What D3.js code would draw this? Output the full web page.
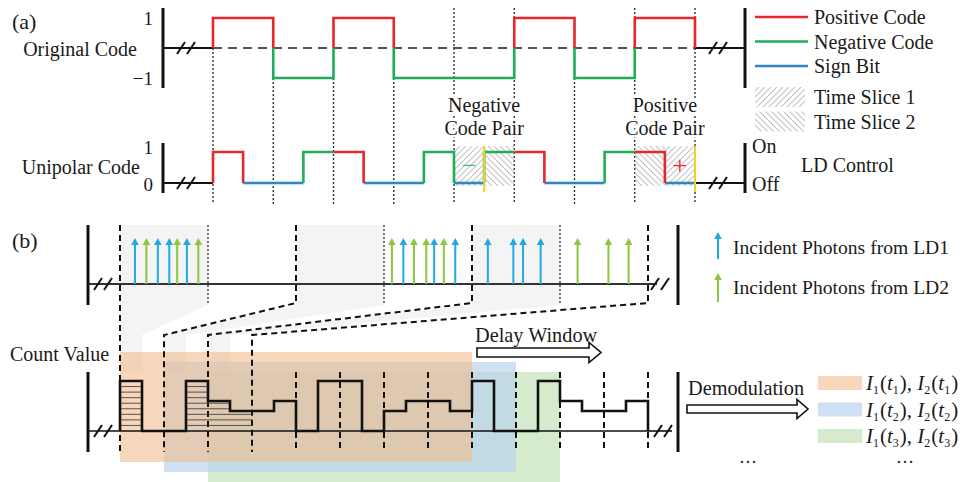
<!DOCTYPE html>
<html>
<head>
<meta charset="utf-8">
<script src="https://cdnjs.cloudflare.com/ajax/libs/d3/7.8.5/d3.min.js"></script>
<style>
  body { margin: 0; background: #fff; }
  svg { display: block; }
  text { font-family: "Liberation Serif", "Times New Roman", serif; fill: #1a1a1a; }
</style>
</head>
<body>
<svg id="chart"></svg>
<script>
// ---- data ----
const originalBits = [1, -1, 1, -1, -1, 1, -1, 1];
const codeTicks = ["1", "\u22121"];
const unipolarTicks = ["1", "0"];
const codeLegend = ["Positive Code", "Negative Code", "Sign Bit"];
const sliceLegend = ["Time Slice 1", "Time Slice 2"];
const ldLabels = ["On", "Off"];
const pairs = [
  { bit: 4, sign: "\u2212", lines: ["Negative", "Code Pair"] },
  { bit: 7, sign: "+", lines: ["Positive", "Code Pair"] }
];
const yellowMarks = [9, 16];   // in half-bit slots

// photon arrival times, in slice units (6 slices shown)
const ld1Times = [0.17, 0.43, 0.56, 0.76, 3.22, 3.57, 3.81, 4.18, 4.47, 4.58, 4.78];
const ld2Times = [0.30, 0.65, 0.89, 3.09, 3.34, 3.48, 3.68, 5.20, 5.55, 5.78];
const photonSlices = 6;

// count value per bin (24 bins)
const counts = [5, 0, 0, 5, 3, 2, 2, 3, 0, 5, 5, 0, 2, 3, 3, 2, 5, 0, 0, 5, 3, 2, 2, 3];
const windowStarts = [0, 2, 4];
const windowLength = 16;
const windowLabels = [["1", "1"], ["1", "2"], ["1", "3"]];
const photonLegend = ["Incident Photons from LD1", "Incident Photons from LD2"];

// ---- drawing ----
const W = 967, H = 482;
const RED = "#e8262b", GREEN = "#20ad55", BLUE = "#2f86c8";
const PBLUE = "#1fa9e3", PGREEN = "#8cc63f";

const svg = d3.select("#chart").attr("width", W).attr("height", H);
svg.append("rect").attr("width", W).attr("height", H).attr("fill", "#fff");

const defs = svg.append("defs");
function hatch(id, up) {
  const p = defs.append("pattern").attr("id", id)
    .attr("patternUnits", "userSpaceOnUse").attr("width", 6).attr("height", 6);
  p.append("path")
    .attr("d", up ? "M-1,1L1,-1M0,6L6,0M5,7L7,5" : "M-1,5L1,7M0,0L6,6M5,-1L7,1")
    .attr("stroke", "#c4c4c4").attr("stroke-width", 1.1);
}
hatch("slice1", true);
hatch("slice2", false);

function line(g, x1, y1, x2, y2, stroke, w, dash) {
  return g.append("line").attr("x1", x1).attr("y1", y1).attr("x2", x2).attr("y2", y2)
    .attr("stroke", stroke).attr("stroke-width", w).attr("stroke-dasharray", dash || null);
}
function breakMark(g, x, y) {
  [0, 10].forEach(dx => line(g, x + dx - 4, y + 6, x + dx + 4, y - 6, "#111", 2));
}
function label(g, x, y, txt, size, anchor) {
  return g.append("text").attr("x", x).attr("y", y).attr("dy", "0.35em")
    .attr("font-size", size || 20).attr("text-anchor", anchor || "start").text(txt);
}

// ===== panel (a) =====
const a = svg.append("g");
const xa = d3.scaleLinear().domain([0, originalBits.length]).range([213, 695]);
const ya = d3.scaleLinear().domain([-1, 1]).range([78, 18]);
const slots = originalBits.flatMap(b => b > 0
  ? [{ l: 1, c: RED }, { l: 0, c: BLUE }]
  : [{ l: 0, c: BLUE }, { l: 1, c: GREEN }]);
const xs = d3.scaleLinear().domain([0, slots.length]).range(xa.range());
const yu = d3.scaleLinear().domain([0, 1]).range([183, 152]);

label(a, 12, 21, "(a)", 22);
label(a, 137, 49, "Original Code", 20, "end");
label(a, 153, 18, codeTicks[0], 19, "end");
label(a, 153, 78, codeTicks[1], 19, "end");
label(a, 140, 167, "Unipolar Code", 20, "end");
label(a, 153, 147, unipolarTicks[0], 19, "end");
label(a, 153, 184, unipolarTicks[1], 19, "end");

// dotted time grid
const pairEdges = pairs.flatMap(p => [p.bit, p.bit + 1]);
d3.range(originalBits.length + 1).forEach(i => {
  const nb = [originalBits[i - 1], originalBits[i], 0].filter(v => v !== undefined);
  const top = pairEdges.includes(i) ? 8 : ya(d3.min(nb));
  line(a, xa(i), top, xa(i), 204, "#222", 1.3, "2,2");
});

// hatched code pairs
pairs.forEach(p => {
  const order = p.sign === "+" ? ["slice2", "slice1"] : ["slice1", "slice2"];
  order.forEach((id, k) => {
    a.append("rect").attr("x", xs(2 * p.bit + k)).attr("y", 146)
      .attr("width", xs(1) - xs(0)).attr("height", 40).attr("fill", `url(#${id})`);
  });
  p.lines.forEach((t, k) => label(a, xa(p.bit + 0.5), 105 + k * 23, t, 20, "middle")
    .attr("stroke", "#fff").attr("stroke-width", 5).attr("paint-order", "stroke"));
  const low = slots[2 * p.bit].l === 0 ? 2 * p.bit : 2 * p.bit + 1;
  a.append("text").attr("x", xs(low + 0.5)).attr("y", 165).attr("dy", "0.35em")
    .attr("text-anchor", "middle").attr("font-size", 26)
    .style("fill", p.sign === "+" ? RED : "#3cbf6a").text(p.sign);
});

// zero line (dashed) and end stubs
line(a, xa(0), ya(0), xa(originalBits.length), ya(0), "#555", 1.8, "9,6");
[[163, xa(0)], [xa(originalBits.length), 745]].forEach(([x1, x2]) => {
  line(a, x1, ya(0), x2, ya(0), "#111", 2);
  line(a, x1, yu(0), x2, yu(0), "#111", 2);
});
breakMark(a, 181, ya(0)); breakMark(a, 713, ya(0));
breakMark(a, 181, yu(0)); breakMark(a, 713, yu(0));
line(a, 163, 8, 163, 88, "#111", 3);
line(a, 745, 8, 745, 88, "#111", 3);
line(a, 163, 143, 163, 193, "#111", 3);
line(a, 745, 143, 745, 193, "#111", 3);

// original code runs
const runs = [];
originalBits.forEach((b, i) => {
  const last = runs[runs.length - 1];
  if (last && last.b === b) last.end = i + 1;
  else runs.push({ b, start: i, end: i + 1 });
});
a.selectAll(".run").data(runs).join("path")
  .attr("d", r => `M${xa(r.start)},${ya(0)}V${ya(r.b)}H${xa(r.end)}V${ya(0)}`)
  .attr("fill", "none").attr("stroke", r => r.b > 0 ? RED : GREEN).attr("stroke-width", 2.6);

// unipolar code
const slotPath = (s, i) => {
  if (s.l === 0) return `M${xs(i)},${yu(0)}H${xs(i + 1)}`;
  const prev = i ? slots[i - 1].l : 0;
  const next = i < slots.length - 1 ? slots[i + 1].l : 0;
  return `M${xs(i)},${yu(prev)}V${yu(1)}H${xs(i + 1)}` + (next === 0 ? `V${yu(0)}` : "");
};
const order = d3.range(slots.length).sort((i, j) => slots[i].l - slots[j].l);
order.forEach(i => {
  a.append("path").attr("d", slotPath(slots[i], i)).attr("fill", "none")
    .attr("stroke", slots[i].c).attr("stroke-width", 2.6);
});
yellowMarks.forEach(s => line(a, xs(s), 146, xs(s), 192, "#f2d21b", 2));

// legends (a)
[RED, GREEN, BLUE].forEach((c, k) => {
  line(a, 755, 17 + k * 24.5, 808, 17 + k * 24.5, c, 2.6);
  label(a, 814, 17 + k * 24.5, codeLegend[k], 20);
});
sliceLegend.forEach((t, k) => {
  a.append("rect").attr("x", 755).attr("y", 87 + k * 24.5).attr("width", 50).attr("height", 20)
    .attr("fill", `url(#slice${k + 1})`);
  label(a, 814, 97 + k * 24.5, t, 20);
});
label(a, 752, 146, ldLabels[0], 20);
label(a, 752, 184, ldLabels[1], 20);
label(a, 801, 165, "LD Control", 20);

// ===== panel (b) =====
const b = svg.append("g");
const xp = d3.scaleLinear().domain([0, photonSlices]).range([120, 648]);
const xc = d3.scaleLinear().domain([0, counts.length]).range(xp.range());
const yc = d3.scaleLinear().domain([0, 5]).range([431, 381]);
const baseP = 284;

label(b, 12, 240, "(b)", 22);
label(b, 10, 354, "Count Value", 20);

// gray slices and their projections
d3.range(0, photonSlices, 2).forEach(s => {
  const x0 = xp(s), x1 = xp(s + 1), c0 = xc(s), c1 = xc(s + 1);
  b.append("path")
    .attr("d", `M${x0},225H${x1}V305L${c1},335V372H${c0}V335L${x0},305Z`)
    .attr("fill", "#f1f1f1").attr("opacity", 0.8);
});

// colour windows
const winColors = ["#f2bd8e", "#b9d3ec", "#cfe6c4"];
const winOpac = [0.6, 0.7, 0.85];
windowStarts.map((s, k) => k).reverse().forEach(k => {
  const top = 352 + k * 10;
  b.append("rect").attr("x", xc(windowStarts[k])).attr("y", top)
    .attr("width", xc(windowStarts[k] + windowLength) - xc(windowStarts[k])).attr("height", 110)
    .attr("fill", winColors[k]).attr("opacity", winOpac[k]);
});

// photon axis
line(b, 88, baseP, xp(photonSlices) + 9, baseP, "#333", 2);
breakMark(b, 98, baseP); breakMark(b, 655, baseP);
line(b, 88, 225, 88, 305, "#111", 3);
line(b, 678, 225, 678, 305, "#111", 3);

// slice boundaries
d3.range(1, photonSlices, 2).forEach(s => line(b, xp(s), 225, xp(s), 305, "#222", 1.2, "2,2"));
d3.range(0, photonSlices + 1, 2).forEach(s => {
  if (s === 0) {
    line(b, xp(0), 225, xp(0), 452, "#111", 2, "6,4");
  } else {
    b.append("path").attr("d", `M${xp(s)},225V303L${xc(s)},335V452`)
      .attr("fill", "none").attr("stroke", "#111").attr("stroke-width", 2).attr("stroke-dasharray", "6,4");
  }
});

// photon arrows
function arrow(g, x, y0, y1, c) {
  g.append("line").attr("x1", x).attr("y1", y0).attr("x2", x).attr("y2", y1 + 5)
    .attr("stroke", c).attr("stroke-width", 2);
  g.append("path").attr("d", `M${x - 3.8},${y1 + 7}L${x},${y1}L${x + 3.8},${y1 + 7}Z`).attr("fill", c);
}
ld1Times.forEach(t => arrow(b, xp(t), baseP, 238, PBLUE));
ld2Times.forEach(t => arrow(b, xp(t), baseP, 238, PGREEN));

// photon legend
arrow(b, 718, 259, 232, PBLUE);
arrow(b, 718, 302, 273, PGREEN);
label(b, 733, 247, photonLegend[0], 19.6);
label(b, 733, 287, photonLegend[1], 19.6);

// count grid (dashed) beyond projections
d3.range(8, counts.length + 1, 2).forEach(i => line(b, xc(i), 372, xc(i), 452, "#111", 2, "6,4"));

// count axis
line(b, 88, yc(0), xc(counts.length), yc(0), "#111", 1.6);
breakMark(b, 98, yc(0)); breakMark(b, 658, yc(0));
line(b, xc(counts.length), yc(0), 672, yc(0), "#111", 1.6);
line(b, 88, 372, 88, 452, "#111", 3);
line(b, 678, 372, 678, 452, "#111", 3);

// hatching inside first bars
const hstep = (yc(0) - yc(5)) / 9;
d3.range(1, 9).forEach(k => {
  const y = yc(5) + k * hstep;
  line(b, xc(0), y, xc(1), y, "#444", 0.9);
  const end = k <= 3 ? 4 : k <= 5 ? 5 : 6;
  line(b, xc(3), y, xc(end), y, "#444", 0.9);
});

// histogram
let d = `M${xc(0)},${yc(0)}`;
counts.forEach((c, i) => { d += `V${yc(c)}H${xc(i + 1)}`; });
d += `V${yc(0)}`;
b.append("path").attr("d", d).attr("fill", "none").attr("stroke", "#111")
  .attr("stroke-width", 2.6).attr("stroke-linejoin", "miter");

// hollow arrows
function hollowArrow(g, x0, x1, y, bh, hh, hl) {
  g.append("path")
    .attr("d", `M${x0},${y - bh}H${x1 - hl}V${y - hh}L${x1},${y}L${x1 - hl},${y + hh}V${y + bh}H${x0}Z`)
    .attr("fill", "#fff").attr("stroke", "#111").attr("stroke-width", 1.6);
}
label(b, 475, 335, "Delay Window", 20.3);
hollowArrow(b, 477, 601, 352.5, 4.5, 10, 12);
label(b, 688, 388, "Demodulation", 20.3);
hollowArrow(b, 687, 808, 409, 4, 9.5, 11);

// window legend
windowLabels.forEach((w, k) => {
  const cy = 383 + k * 26.5;
  b.append("rect").attr("x", 818).attr("y", cy - 7).attr("width", 44).attr("height", 14)
    .attr("fill", winColors[k]).attr("opacity", winOpac[k]);
  const t = b.append("text").attr("x", 866).attr("y", cy + 7).attr("font-size", 21);
  [0, 1].forEach(j => {
    t.append("tspan").attr("font-style", "italic").text("I");
    t.append("tspan").attr("font-size", 12).attr("dy", 4).text(String(j + 1));
    t.append("tspan").attr("dy", -4).attr("dx", 1).text("(");
    t.append("tspan").attr("font-style", "italic").text("t");
    t.append("tspan").attr("font-size", 12).attr("dy", 4).text(w[1]);
    t.append("tspan").attr("dy", -4).attr("dx", 1).text(")");
    if (j === 0) t.append("tspan").text(", ");
  });
});
label(b, 748, 457, "\u2026", 18, "middle");
label(b, 905, 457, "\u2026", 18, "middle");
</script>
</body>
</html>
